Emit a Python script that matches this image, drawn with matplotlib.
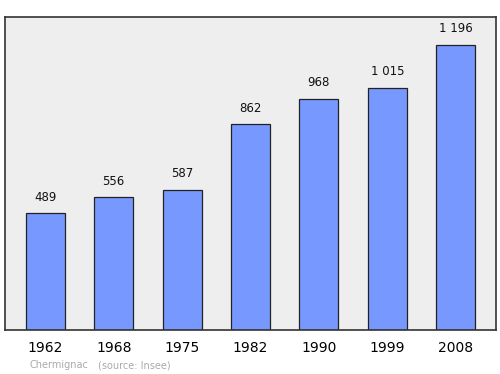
import matplotlib
matplotlib.use("Agg")
import matplotlib.pyplot as plt

years = ["1962", "1968", "1975", "1982", "1990", "1999", "2008"]
population = [489, 556, 587, 862, 968, 1015, 1196]
value_labels = ["489", "556", "587", "862", "968", "1 015", "1 196"]

fig = plt.figure(figsize=(5.0, 3.74), dpi=100)
ax = fig.add_axes([0.01, 0.1176, 0.982, 0.837])
ax.set_facecolor("#eeeeee")
x = list(range(len(years)))
ax.bar(x, population, width=0.57, color="#7799ff", edgecolor="#222222", linewidth=0.9, zorder=2)
for xi, v, lab in zip(x, population, value_labels):
    ax.annotate(lab, (xi, v), xytext=(0, 7), textcoords="offset points",
                ha="center", va="bottom", fontsize=8.5, color="#111111")
ax.set_xlim(-0.59, 6.59)
ax.set_ylim(0, 1312)
ax.set_yticks([])
ax.set_xticks(x)
ax.set_xticklabels(years, fontsize=10)
ax.tick_params(axis="x", length=0, pad=8)
for s in ax.spines.values():
    s.set_color("#333333")
    s.set_linewidth(1.2)
fig.text(30/500, 1 - 365/374, "Chermignac", fontsize=7, color="#aaaaaa", va="center")
fig.text(98/500, 1 - 365/374, "(source: Insee)", fontsize=7, color="#aaaaaa", va="center")
fig.savefig("out.png", dpi=100)
